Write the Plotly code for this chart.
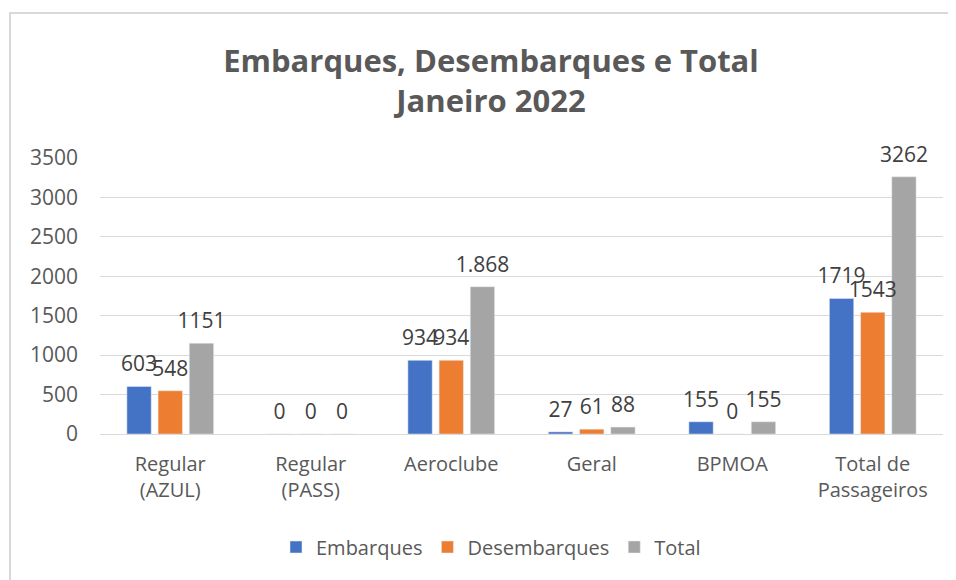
import plotly.graph_objects as go

categories = ["Regular<br>(AZUL)", "Regular<br>(PASS)", "Aeroclube", "Geral", "BPMOA", "Total de<br>Passageiros"]
embarques = [603, 0, 934, 27, 155, 1719]
desembarques = [548, 0, 934, 61, 0, 1543]
total = [1151, 0, 1868, 88, 155, 3262]
total_labels = ["1151", "0", "1.868", "88", "155", "3262"]
y_ticks = [0, 500, 1000, 1500, 2000, 2500, 3000, 3500]

FONT = "Open Sans"
OFF = 8  # page body offset
L, R, T, B = 100 - OFF, 956 - (943 - OFF), 158 - OFF, 580 - (434 - OFF)
PW, PH = 843, 276
BARGAP = 0.334

fig = go.Figure()
series = [
    ("Embarques", embarques, [str(v) for v in embarques], "#4472C4"),
    ("Desembarques", desembarques, [str(v) for v in desembarques], "#ED7D31"),
    ("Total", total, total_labels, "#A5A5A5"),
]
for name, vals, labels, color in series:
    fig.add_trace(go.Bar(
        name=name, x=categories, y=vals, marker_color=color,
        legendgroup=name, hoverinfo="skip",
    ))
for name, vals, labels, color in series:
    fig.add_trace(go.Scatter(
        x=categories, y=vals, text=labels, mode="markers+text",
        textposition="top center", cliponaxis=False,
        marker=dict(size=14, color="rgba(0,0,0,0)"),
        textfont=dict(family=FONT, size=21, color="#404040"),
        showlegend=False, legendgroup=name, hoverinfo="skip",
    ))

fig.update_layout(
    width=956, height=580,
    paper_bgcolor="white", plot_bgcolor="white",
    margin=dict(l=L, r=R, t=T, b=B, autoexpand=False),
    barmode="group", bargap=BARGAP, bargroupgap=0.22,
    scattermode="group", scattergap=BARGAP,
    title=dict(
        text="Embarques, Desembarques e Total<br>Janeiro 2022",
        x=(491 - OFF) / 956, xanchor="center", xref="container",
        y=1 - (72 - OFF) / 580, yanchor="middle", yref="container",
        font=dict(family=FONT, size=31, color="#595959", weight="bold"),
    ),
    font=dict(family=FONT, color="#595959"),
    legend=dict(
        orientation="h", x=(491 - 100) / PW, xanchor="center",
        y=(434 - 547) / PH, yanchor="middle",
        font=dict(family=FONT, size=20, color="#595959"),
    ),
    yaxis=dict(
        range=[0, 3500], tickvals=y_ticks,
        showgrid=True, gridcolor="#D9D9D9", gridwidth=1,
        zeroline=True, zerolinecolor="#D9D9D9", zerolinewidth=1,
        tickfont=dict(family=FONT, size=21, color="#595959"),
        ticklabelstandoff=21,
    ),
    xaxis=dict(
        tickfont=dict(family=FONT, size=20, color="#595959"),
        tickangle=0, ticklabelstandoff=16,
        showline=False,
    ),
    shapes=[dict(
        type="rect", xref="paper", yref="paper",
        x0=(10 - 100) / PW, x1=(972 - 100) / PW,
        y0=-0.7, y1=(434 - 13) / PH,
        line=dict(color="#D9D9D9", width=2), fillcolor="rgba(0,0,0,0)",
        layer="below",
    )],
)

fig.write_html("out.html")
